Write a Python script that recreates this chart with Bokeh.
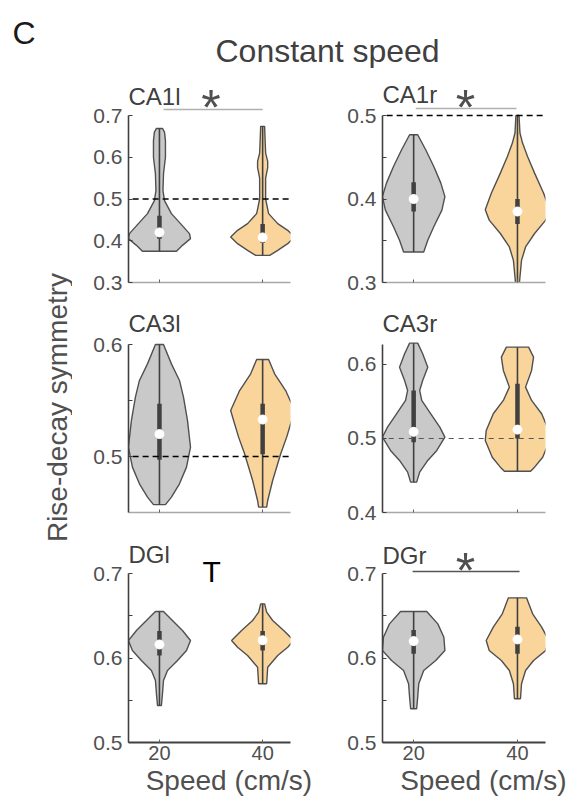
import math
from bokeh.plotting import figure
from bokeh.layouts import column, row
from bokeh.models import Range1d, FixedTicker, Label
from bokeh.embed import file_html
from bokeh.resources import INLINE

FONT = "Liberation Sans"

# ---------------- data ----------------
speed_pos = [1, 2]
speed_labels = ["20", "40"]
regions = ["CA1l", "CA1r", "CA3l", "CA3r", "DGl", "DGr"]

ylims = {"CA1l": (0.3, 0.7), "CA1r": (0.3, 0.5), "CA3l": (0.45, 0.6),
         "CA3r": (0.4, 0.627), "DGl": (0.5, 0.7), "DGr": (0.5, 0.7)}
ytick_major = {"CA1l": [0.3, 0.4, 0.5, 0.6, 0.7], "CA1r": [0.3, 0.4, 0.5],
               "CA3l": [0.5, 0.6], "CA3r": [0.4, 0.5, 0.6],
               "DGl": [0.5, 0.6, 0.7], "DGr": [0.5, 0.6, 0.7]}
ytick_labels = {"CA1l": ["0.3", "0.4", "0.5", "0.6", "0.7"], "CA1r": ["0.3", "0.4", "0.5"],
                "CA3l": ["0.5", "0.6"], "CA3r": ["0.4", "0.5", "0.6"],
                "DGl": ["0.5", "0.6", "0.7"], "DGr": ["0.5", "0.6", "0.7"]}
ytick_minor = {"CA1l": [], "CA1r": [0.35, 0.45], "CA3l": [0.55], "CA3r": [],
               "DGl": [0.55, 0.65], "DGr": [0.55, 0.65]}

# violin outlines: y values (ascending) and half widths (x units)
ca1l_20_y = [0.375, 0.389, 0.405, 0.417, 0.441, 0.465, 0.496, 0.52, 0.56, 0.60, 0.64, 0.66, 0.669]
ca1l_20_w = [0.165, 0.223, 0.301, 0.291, 0.204, 0.116, 0.049, 0.034, 0.039, 0.058, 0.058, 0.049, 0.029]
ca1l_40_y = [0.365, 0.377, 0.393, 0.409, 0.425, 0.441, 0.465, 0.50, 0.55, 0.575, 0.59, 0.61, 0.64, 0.674]
ca1l_40_w = [0.068, 0.146, 0.243, 0.31, 0.243, 0.146, 0.058, 0.029, 0.029, 0.049, 0.049, 0.029, 0.024, 0.019]

ca1r_20_y = [0.3365, 0.3506, 0.3667, 0.3867, 0.4028, 0.419, 0.439, 0.459, 0.477]
ca1r_20_w = [0.097, 0.136, 0.194, 0.272, 0.301, 0.262, 0.194, 0.116, 0.039]
ca1r_40_y = [0.300, 0.3265, 0.3426, 0.3587, 0.3747, 0.387, 0.4069, 0.431, 0.451, 0.467, 0.479, 0.500]
ca1r_40_w = [0.019, 0.039, 0.078, 0.165, 0.272, 0.31, 0.252, 0.165, 0.097, 0.049, 0.024, 0.015]

ca3l_20_y = [0.457, 0.4637, 0.4756, 0.4905, 0.5083, 0.5321, 0.553, 0.5679, 0.5827, 0.600]
ca3l_20_w = [0.058, 0.116, 0.194, 0.262, 0.301, 0.272, 0.233, 0.194, 0.116, 0.039]
ca3l_40_y = [0.4548, 0.4607, 0.4786, 0.5024, 0.5173, 0.5292, 0.5411, 0.5589, 0.5738, 0.5866]
ca3l_40_w = [0.039, 0.049, 0.097, 0.175, 0.233, 0.272, 0.31, 0.223, 0.116, 0.058]

ca3r_20_y = [0.441, 0.4545, 0.4703, 0.4838, 0.5018, 0.5153, 0.5334, 0.5514, 0.5649, 0.5784, 0.5964, 0.6144, 0.6288]
ca3r_20_w = [0.029, 0.058, 0.136, 0.223, 0.301, 0.252, 0.165, 0.078, 0.058, 0.087, 0.136, 0.087, 0.039]
ca3r_40_y = [0.4558, 0.4613, 0.4747, 0.4973, 0.5108, 0.5334, 0.5514, 0.5694, 0.5919, 0.6099, 0.6234]
ca3r_40_w = [0.126, 0.165, 0.243, 0.31, 0.301, 0.233, 0.136, 0.078, 0.136, 0.155, 0.107]

dgl_20_y = [0.5438, 0.5576, 0.5734, 0.5852, 0.597, 0.6089, 0.6207, 0.6325, 0.6444, 0.655]
dgl_20_w = [0.019, 0.029, 0.039, 0.078, 0.175, 0.262, 0.301, 0.223, 0.126, 0.039]
dgl_40_y = [0.5695, 0.5891, 0.603, 0.6128, 0.6207, 0.6325, 0.6444, 0.6542, 0.6641]
dgl_40_w = [0.039, 0.049, 0.146, 0.243, 0.301, 0.204, 0.097, 0.039, 0.019]

dgr_20_y = [0.5399, 0.5536, 0.5695, 0.5852, 0.597, 0.6089, 0.6246, 0.6404, 0.655]
dgr_20_w = [0.029, 0.039, 0.049, 0.097, 0.213, 0.301, 0.291, 0.233, 0.126]
dgr_40_y = [0.5517, 0.5695, 0.5852, 0.597, 0.6089, 0.6207, 0.6365, 0.6523, 0.6712]
dgr_40_w = [0.029, 0.039, 0.078, 0.155, 0.272, 0.301, 0.233, 0.146, 0.087]

median_20 = {"CA1l": 0.420, "CA1r": 0.400, "CA3l": 0.520, "CA3r": 0.509, "DGl": 0.616, "DGr": 0.620}
median_40 = {"CA1l": 0.408, "CA1r": 0.385, "CA3l": 0.533, "CA3r": 0.512, "DGl": 0.621, "DGr": 0.622}
q1_20 = {"CA1l": 0.405, "CA1r": 0.385, "CA3l": 0.497, "CA3r": 0.495, "DGl": 0.603, "DGr": 0.605}
q3_20 = {"CA1l": 0.460, "CA1r": 0.420, "CA3l": 0.547, "CA3r": 0.565, "DGl": 0.632, "DGr": 0.633}
q1_40 = {"CA1l": 0.395, "CA1r": 0.370, "CA3l": 0.502, "CA3r": 0.500, "DGl": 0.609, "DGr": 0.605}
q3_40 = {"CA1l": 0.440, "CA1r": 0.400, "CA3l": 0.547, "CA3r": 0.574, "DGl": 0.632, "DGr": 0.637}

violins = {
    "CA1l": [(ca1l_20_y, ca1l_20_w), (ca1l_40_y, ca1l_40_w)],
    "CA1r": [(ca1r_20_y, ca1r_20_w), (ca1r_40_y, ca1r_40_w)],
    "CA3l": [(ca3l_20_y, ca3l_20_w), (ca3l_40_y, ca3l_40_w)],
    "CA3r": [(ca3r_20_y, ca3r_20_w), (ca3r_40_y, ca3r_40_w)],
    "DGl": [(dgl_20_y, dgl_20_w), (dgl_40_y, dgl_40_w)],
    "DGr": [(dgr_20_y, dgr_20_w), (dgr_40_y, dgr_40_w)],
}

ref_level = {"CA1l": 0.5, "CA1r": 0.5, "CA3l": 0.5, "CA3r": 0.5}
sig_pairs = {"CA1l": (1.04, 2.0), "CA1r": (1.02, 1.99), "DGr": (0.99, 2.02)}

# ---------------- styling / layout ----------------
FILLS = ["#c9c9c9", "#f9d59b"]
EDGE = "#505050"
DARK = "#404040"
TXT = "#505050"
SHIFT = 0.3          # measured baseline drift of Label text, in em
STAR_DRIFT = 8       # measured upward drift of the middle-anchored asterisk, px

HEADER_H = 68
YLAB_W = 72
col_w = [263, 235]
col_left = [56, 47]
col_right = [45, 25]
row_h = [300 - HEADER_H, 230, 275]
row_bottom = [18, 18, 63]
axis_px = [167, 168, 169]      # pixel height of the drawn y axis
X_RANGE = (0.7, 2.27)
NBSP = "\u00a0"


def make_panel(name, ci, ri):
    lo, hi = ylims[name]
    frame_px = row_h[ri] - row_bottom[ri]
    per_px = (hi - lo) / axis_px[ri]
    top = lo + frame_px * per_px

    def above(px):
        return hi + px * per_px

    def text_at(x, base_px_above, text, size, color, align="left"):
        p.add_layout(Label(x=x, y=above(base_px_above + SHIFT * size), text=text,
                           text_font=FONT, text_font_size=f"{size}px", text_color=color,
                           text_align=align, text_baseline="alphabetic"))

    p = figure(width=col_w[ci], height=row_h[ri], output_backend="svg", toolbar_location=None,
               x_range=Range1d(*X_RANGE), y_range=Range1d(lo, top),
               min_border_left=col_left[ci], min_border_right=col_right[ci],
               min_border_top=0, min_border_bottom=row_bottom[ri])
    p.outline_line_color = None
    p.xgrid.visible = False
    p.ygrid.visible = False
    p.background_fill_color = "white"
    p.border_fill_color = "white"

    # y axis
    ya = p.yaxis[0]
    ya.bounds = (lo, hi)
    ya.ticker = FixedTicker(ticks=ytick_major[name], minor_ticks=ytick_minor[name])
    ya.major_label_overrides = {t: s for t, s in zip(ytick_major[name], ytick_labels[name])}
    ya.major_tick_in = 4
    ya.major_tick_out = 0
    ya.minor_tick_in = 4
    ya.minor_tick_out = 0
    ya.axis_line_color = DARK
    ya.axis_line_width = 1.6
    ya.major_tick_line_color = DARK
    ya.minor_tick_line_color = DARK
    ya.major_label_text_font = FONT
    ya.major_label_text_font_size = "21px"
    ya.major_label_text_color = TXT
    ya.major_label_standoff = 6

    # x axis
    xa = p.xaxis[0]
    xa.major_label_text_font = FONT
    xa.major_label_text_color = TXT
    if ri < 2:
        xa.ticker = FixedTicker(ticks=[], minor_ticks=speed_pos)
        xa.minor_tick_in = 3
        xa.minor_tick_out = 0
        xa.minor_tick_line_color = "#606060"
        xa.axis_line_color = "#a8a8a8"
        xa.axis_line_width = 1.3
    else:
        xa.ticker = FixedTicker(ticks=speed_pos, minor_ticks=[])
        xa.major_label_overrides = {t: s for t, s in zip(speed_pos, speed_labels)}
        xa.major_tick_in = 3
        xa.major_tick_out = 0
        xa.major_tick_line_color = "#606060"
        xa.major_label_text_font_size = "20px"
        xa.major_label_standoff = 3
        xa.axis_line_color = DARK
        xa.axis_line_width = 2
        # the original title sits right of the frame centre; pad with no-break spaces
        xa.axis_label = NBSP * 5 + "Speed (cm/s)"
        xa.axis_label_text_font = FONT
        xa.axis_label_text_font_size = "28px"
        xa.axis_label_text_font_style = "normal"
        xa.axis_label_text_color = TXT
        xa.axis_label_standoff = 2

    meds = [median_20[name], median_40[name]]
    q1s = [q1_20[name], q1_40[name]]
    q3s = [q3_20[name], q3_40[name]]
    for k, (ys, ws) in enumerate(violins[name]):
        c = speed_pos[k]
        xs = [c - w for w in ws] + [c + w for w in reversed(ws)]
        yy = list(ys) + list(reversed(ys))
        p.patch(xs, yy, fill_color=FILLS[k], line_color=EDGE, line_width=1.4)
        p.segment(x0=[c], y0=[min(ys)], x1=[c], y1=[max(ys)], line_color=DARK, line_width=1.6)
        p.segment(x0=[c], y0=[q1s[k]], x1=[c], y1=[q3s[k]], line_color=DARK, line_width=4.5)

    if name in ref_level:
        if name == "CA3r":
            p.line([0.76, 2.26], [ref_level[name]] * 2, line_color="#555555",
                   line_width=1, line_dash="5 5")
        else:
            p.line([0.74, 2.27], [ref_level[name]] * 2, line_color="black",
                   line_width=1.6, line_dash="6 4")

    p.scatter(speed_pos, meds, size=9, fill_color="white", line_color="white")

    if name in sig_pairs:
        a, b = sig_pairs[name]
        if name == "DGr":
            ly, col, centre = above(2), "#555555", 10.5
        elif name == "CA1r":
            ly, col, centre = above(7), "#b0b0b0", 16
        else:
            ly, col, centre = above(6), "#b0b0b0", 15.5
        p.line([a, b], [ly, ly], line_color=col, line_width=1.5)
        star = 50
        p.add_layout(Label(x=1.5, y=above(centre - STAR_DRIFT), text="*", text_font=FONT,
                           text_font_size=f"{star}px", text_color="#505050",
                           text_align="center", text_baseline="middle"))

    title_px = {"CA1l": 12, "CA1r": 14, "CA3l": 14, "CA3r": 14, "DGl": 12, "DGr": 11}[name]
    text_at(X_RANGE[0], title_px, name, 24, DARK)

    if name == "DGl":
        text_at(1.417, -7, "T", 30, "black")
    return p


# header with panel letter and title (data y = pixels up from the header's bottom)
hdr = figure(width=570, height=HEADER_H, output_backend="svg", toolbar_location=None,
             x_range=Range1d(0, 570), y_range=Range1d(0, HEADER_H),
             x_axis_type=None, y_axis_type=None,
             min_border_left=0, min_border_right=0, min_border_top=0, min_border_bottom=0)
hdr.outline_line_color = None
hdr.grid.visible = False
hdr.add_layout(Label(x=12, y=HEADER_H - 42 + SHIFT * 32, text="C", text_font=FONT,
                     text_font_size="32px", text_color="#1a1a1a", text_baseline="alphabetic"))
hdr.add_layout(Label(x=215, y=HEADER_H - 60 + SHIFT * 32, text="Constant speed", text_font=FONT,
                     text_font_size="32px", text_color=DARK, text_baseline="alphabetic"))

# shared y label (data y = pixels up from the page bottom)
body_h = 805 - HEADER_H
ylab = figure(width=YLAB_W, height=body_h, output_backend="svg", toolbar_location=None,
              x_range=Range1d(0, YLAB_W), y_range=Range1d(0, body_h),
              x_axis_type=None, y_axis_type=None,
              min_border_left=0, min_border_right=0, min_border_top=0, min_border_bottom=0)
ylab.outline_line_color = None
ylab.grid.visible = False
ylab.add_layout(Label(x=65 - SHIFT * 28, y=805 - 407, text="Rise-decay symmetry",
                      angle=math.pi / 2, text_font=FONT, text_font_size="28px",
                      text_color=TXT, text_align="center", text_baseline="alphabetic"))

rows = []
for ri in range(3):
    rows.append(row(make_panel(regions[2 * ri], 0, ri), make_panel(regions[2 * ri + 1], 1, ri)))

layout = column(hdr, row(ylab, column(*rows)))

open("out.html", "w").write(file_html(layout, INLINE))
